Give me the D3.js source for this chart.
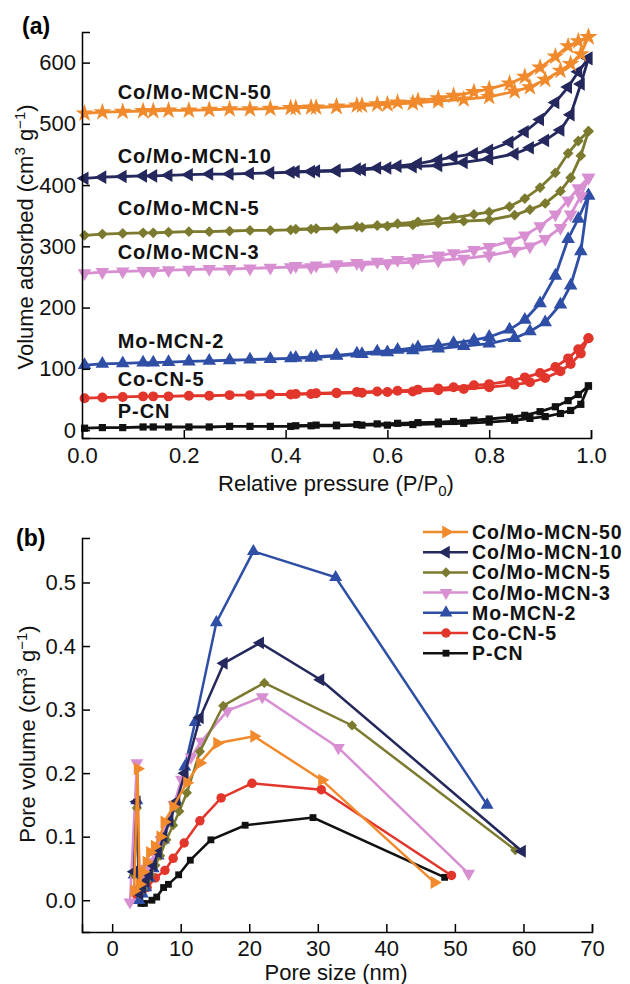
<!DOCTYPE html>
<html>
<head>
<meta charset="utf-8">
<script src="https://cdn.jsdelivr.net/npm/d3@7"></script>
<style>
  body { margin: 0; background: #fff; }
  text { font-family: Arial, "Liberation Sans", sans-serif; }
</style>
</head>
<body>
<div id="chart"></div>
<script>

// sample names (legend order) and their colours
var samples = ["Co/Mo-MCN-50", "Co/Mo-MCN-10", "Co/Mo-MCN-5", "Co/Mo-MCN-3", "Mo-MCN-2", "Co-CN-5", "P-CN"];
var colors  = ["#f08a2c", "#24285c", "#7b7a2e", "#d88fd2", "#2f4ea6", "#e2352b", "#111111"];

// ---------- (a) N2 isotherms ----------
var pAds = [0.005, 0.04, 0.08, 0.12, 0.14, 0.17, 0.21, 0.25, 0.29, 0.33, 0.37, 0.41, 0.45, 0.50,
            0.55, 0.60, 0.65, 0.70, 0.75, 0.80, 0.85, 0.88, 0.91, 0.94, 0.96, 0.98, 0.995];
var pDes = [0.995, 0.975, 0.955, 0.93, 0.90, 0.87, 0.84, 0.80, 0.77, 0.73, 0.70, 0.66, 0.62, 0.58,
            0.54, 0.50, 0.46, 0.42];

var ads50 = [517, 519, 520, 521, 521, 522, 522, 523, 524, 524, 525, 526, 527, 528, 530, 532, 534, 537, 540, 544, 553, 560, 572, 587, 598, 614, 642];
var des50 = [642, 635, 627, 610, 592, 577, 566, 557, 552, 546, 542, 538, 535, 532, 530, 528, 527, 526];
var ads10 = [411, 413, 414, 415, 415, 416, 417, 418, 418, 419, 420, 421, 422, 423, 425, 428, 430, 432, 437, 443, 451, 461, 473, 490, 515, 565, 607];
var des10 = [607, 585, 560, 535, 507, 487, 470, 457, 451, 446, 441, 435, 431, 428, 426, 424, 423, 422];
var ads5  = [318, 320, 321, 322, 322, 323, 324, 324, 325, 326, 326, 327, 328, 329, 331, 333, 335, 338, 341, 343, 351, 360, 370, 390, 412, 448, 488];
var des5  = [488, 472, 452, 420, 396, 378, 365, 356, 352, 347, 344, 340, 337, 334, 332, 330, 329, 328];
var ads3  = [256, 258, 259, 260, 260, 261, 262, 263, 263, 264, 265, 266, 266, 268, 270, 272, 274, 277, 280, 285, 293, 300, 312, 330, 352, 382, 412];
var des3  = [412, 395, 375, 352, 333, 318, 308, 299, 294, 289, 285, 281, 278, 275, 273, 271, 269, 268];
var ads2  = [106, 108, 109, 110, 110, 111, 112, 113, 114, 115, 116, 117, 118, 121, 124, 127, 130, 133, 137, 141, 150, 161, 176, 205, 236, 292, 383];
var des2  = [383, 345, 312, 252, 207, 180, 164, 152, 147, 142, 138, 135, 131, 128, 125, 122, 120, 118];
var adsCo = [52, 53, 54, 55, 55, 55, 56, 56, 57, 57, 58, 58, 59, 60, 61, 62, 63, 65, 67, 70, 74, 78, 85, 96, 108, 125, 150];
var desCo = [150, 132, 117, 103, 93, 86, 80, 75, 73, 70, 68, 66, 64, 63, 62, 61, 60, 59];
var adsP  = [3, 4, 4, 5, 5, 5, 5, 5, 6, 6, 6, 6, 7, 7, 8, 8, 9, 10, 11, 13, 16, 19, 22, 27, 32, 42, 72];
var desP  = [72, 58, 48, 38, 30, 24, 21, 18, 16, 14, 13, 12, 11, 10, 9, 8, 8, 7];

var adsAll = [ads50, ads10, ads5, ads3, ads2, adsCo, adsP];
var desAll = [des50, des10, des5, des3, des2, desCo, desP];

// where the sample names sit in (a), in axis units
var labelP   = 0.07;
var labelVol = [540, 436, 351, 279, 134, 72, 20];

var xTicksA = [0, 0.2, 0.4, 0.6, 0.8, 1.0];
var yTicksA = [0, 100, 200, 300, 400, 500, 600];

// ---------- (b) pore size distribution ----------
var size50 = [3.2, 3.7, 4.0, 4.5, 5.0, 5.5, 6.2, 7.0, 7.6, 8.9, 10.9, 12.8, 15.3, 20.7, 30.6, 47.0];
var vol50  = [0.015, 0.207, 0.025, 0.045, 0.06, 0.075, 0.085, 0.1, 0.123, 0.147, 0.185, 0.216, 0.247, 0.258, 0.189, 0.028];
var size10 = [3.2, 3.6, 4.0, 4.4, 4.9, 5.4, 6.0, 6.7, 7.5, 8.4, 9.4, 10.6, 12.8, 16.3, 21.6, 30.4, 59.8];
var vol10  = [0.045, 0.155, 0.01, 0.02, 0.03, 0.04, 0.055, 0.075, 0.1, 0.125, 0.155, 0.2, 0.287, 0.373, 0.405, 0.347, 0.077];
var size5  = [3.2, 3.6, 4.0, 4.5, 5.0, 5.6, 6.3, 7.0, 7.9, 8.9, 9.8, 10.9, 12.8, 16.2, 22.2, 35.0, 58.8];
var vol5   = [0.04, 0.145, 0.01, 0.018, 0.03, 0.04, 0.055, 0.07, 0.095, 0.118, 0.14, 0.169, 0.234, 0.306, 0.342, 0.275, 0.079];
var size3  = [2.6, 3.6, 4.0, 4.5, 5.0, 5.6, 6.3, 7.1, 8.0, 9.0, 10.1, 11.5, 13.0, 16.8, 21.9, 33.0, 52.0];
var vol3   = [-0.003, 0.216, 0.02, 0.035, 0.05, 0.06, 0.075, 0.095, 0.12, 0.15, 0.19, 0.225, 0.25, 0.298, 0.32, 0.24, 0.042];
var size2  = [3.2, 3.6, 3.9, 4.4, 4.9, 5.4, 6.0, 6.7, 7.5, 8.4, 9.4, 10.6, 12.1, 15.2, 20.6, 32.6, 54.7];
var vol2   = [0.04, 0.157, 0.0, 0.01, 0.02, 0.035, 0.05, 0.07, 0.095, 0.125, 0.155, 0.21, 0.28, 0.437, 0.549, 0.508, 0.15];
var sizeCo = [3.6, 4.3, 5.1, 6.3, 7.7, 8.9, 10.5, 12.8, 15.9, 20.4, 30.5, 49.5];
var volCo  = [0.008, 0.012, 0.02, 0.035, 0.047, 0.066, 0.09, 0.125, 0.161, 0.184, 0.174, 0.039];
var sizeP  = [4.2, 4.7, 5.8, 6.5, 7.5, 8.2, 9.7, 11.4, 14.4, 19.4, 29.3, 48.5];
var volP   = [-0.005, -0.005, 0.0, 0.005, 0.02, 0.025, 0.04, 0.063, 0.095, 0.118, 0.13, 0.036];

var sizeAll = [size50, size10, size5, size3, size2, sizeCo, sizeP];
var volAll  = [vol50, vol10, vol5, vol3, vol2, volCo, volP];

var xTicksB = [0, 10, 20, 30, 40, 50, 60, 70];
var yTicksB = [0, 0.1, 0.2, 0.3, 0.4, 0.5];

// marker kinds: (a) uses a star for the first sample, (b) a right triangle
var markA = ["star", "left", "diamond", "down", "up", "circle", "square"];
var markB = ["right", "left", "diamond", "down", "up", "circle", "square"];

var svg = d3.select("#chart")
    .append("svg")
    .attr("width", 630)
    .attr("height", 984);

// draw one marker symbol, k scales its area
function marker(g, kind, cx, cy, color, k) {
  var type = d3.symbolTriangle, size = 80, rot = 0;
  if (kind == "star") { type = d3.symbolStar; size = 100; }
  if (kind == "left") rot = -90;
  if (kind == "right") rot = 90;
  if (kind == "down") rot = 180;
  if (kind == "diamond") { type = d3.symbolSquare; size = 58; rot = 45; }
  if (kind == "circle") { type = d3.symbolCircle; size = 78; }
  if (kind == "square") { type = d3.symbolSquare; size = 52; }
  g.append("path")
      .attr("d", d3.symbol().type(type).size(size * k)())
      .attr("transform", "translate(" + cx + "," + cy + ") rotate(" + rot + ")")
      .attr("fill", color);
}

function styleAxis(g) {
  g.selectAll("path, line").attr("stroke", "#000").attr("stroke-width", 1.5);
  g.selectAll("text")
      .attr("font-size", 22)
      .attr("font-family", "Arial, 'Liberation Sans', sans-serif")
      .attr("fill", "#111");
}

// ================= panel (a) =================
var xa = d3.scaleLinear().domain([0, 1]).range([82, 591]);
var ya = d3.scaleLinear().domain([-13, 650]).range([438, 32]);

var lineA = d3.line()
    .x(function(d) { return xa(d[0]); })
    .y(function(d) { return ya(d[1]); });

for (var i = samples.length - 1; i >= 0; i--) {
  var g = svg.append("g");
  var ads = pAds.map(function(p, j) { return [p, adsAll[i][j]]; });
  var des = pDes.map(function(p, j) { return [p, desAll[i][j]]; });
  [ads, des].forEach(function(branch) {
    g.append("path")
        .datum(branch)
        .attr("fill", "none")
        .attr("stroke", colors[i])
        .attr("stroke-width", 2.8)
        .attr("d", lineA);
    branch.forEach(function(d) { marker(g, markA[i], xa(d[0]), ya(d[1]), colors[i], 1); });
  });
}

// sample names on (a)
svg.selectAll(".lblA")
    .data(samples)
    .enter().append("text")
    .attr("x", xa(labelP))
    .attr("y", function(d, i) { return ya(labelVol[i]); })
    .attr("font-size", 20)
    .attr("letter-spacing", 1)
    .attr("font-weight", "bold")
    .attr("fill", "#111")
    .text(function(d) { return d; });

svg.append("g")
    .attr("transform", "translate(0,438)")
    .call(d3.axisBottom(xa).tickValues(xTicksA).tickFormat(d3.format(".1f")).tickSize(-8).tickPadding(9))
    .call(styleAxis);

svg.append("g")
    .attr("transform", "translate(82,0)")
    .call(d3.axisLeft(ya).tickValues(yTicksA).tickFormat(d3.format("d")).tickSize(-8).tickPadding(6))
    .call(styleAxis);

// axis titles (a)
var tA = svg.append("text")
    .attr("x", 336).attr("y", 491)
    .attr("text-anchor", "middle")
    .attr("font-size", 22).attr("fill", "#111");
tA.append("tspan").text("Relative pressure (P/P");
tA.append("tspan").attr("dy", 5).attr("font-size", 15).text("0");
tA.append("tspan").attr("dy", -5).text(")");

function yTitle(txt, cx, cy) {
  var t = svg.append("text")
      .attr("transform", "translate(" + cx + "," + cy + ") rotate(-90)")
      .attr("text-anchor", "middle")
      .attr("font-size", 22).attr("fill", "#111");
  t.append("tspan").text(txt + " (cm");
  t.append("tspan").attr("dy", -8).attr("font-size", 15).text("3");
  t.append("tspan").attr("dy", 8).text(" g");
  t.append("tspan").attr("dy", -8).attr("font-size", 15).text("\u22121");
  t.append("tspan").attr("dy", 8).text(")");
}
yTitle("Volume adsorbed", 33, 237);

svg.append("text")
    .attr("x", 22).attr("y", 34)
    .attr("font-size", 23).attr("font-weight", "bold")
    .text("(a)");

// ================= panel (b) =================
var xb = d3.scaleLinear().domain([-4.4, 70]).range([82, 592]);
var yb = d3.scaleLinear().domain([-0.05, 0.57]).range([932, 538]);

var lineB = d3.line()
    .x(function(d) { return xb(d[0]); })
    .y(function(d) { return yb(d[1]); });

for (var i = samples.length - 1; i >= 0; i--) {
  var g = svg.append("g");
  var pts = sizeAll[i].map(function(s, j) { return [s, volAll[i][j]]; });
  g.append("path")
      .datum(pts)
      .attr("fill", "none")
      .attr("stroke", colors[i])
      .attr("stroke-width", 2.5)
      .attr("d", lineB);
  pts.forEach(function(d) { marker(g, markB[i], xb(d[0]), yb(d[1]), colors[i], 0.9); });
}

svg.append("g")
    .attr("transform", "translate(0,932)")
    .call(d3.axisBottom(xb).tickValues(xTicksB).tickFormat(d3.format("d")).tickSize(-8).tickPadding(8))
    .call(styleAxis);

svg.append("g")
    .attr("transform", "translate(82,0)")
    .call(d3.axisLeft(yb).tickValues(yTicksB).tickFormat(d3.format(".1f")).tickSize(-8).tickPadding(6))
    .call(styleAxis);

svg.append("text")
    .attr("x", 336).attr("y", 980)
    .attr("text-anchor", "middle")
    .attr("font-size", 22).attr("fill", "#111")
    .text("Pore size (nm)");

yTitle("Pore volume", 35, 734);

svg.append("text")
    .attr("x", 16).attr("y", 546)
    .attr("font-size", 23).attr("font-weight", "bold")
    .text("(b)");

// legend (b)
var leg = svg.selectAll(".leg")
    .data(samples)
    .enter().append("g")
    .attr("transform", function(d, i) { return "translate(423," + (532 + i * 20.2) + ")"; });

leg.append("line")
    .attr("x1", 0).attr("x2", 45)
    .attr("stroke", function(d, i) { return colors[i]; })
    .attr("stroke-width", 2.5);

leg.each(function(d, i) { marker(d3.select(this), markB[i], 23, 0, colors[i], 0.9); });

leg.append("text")
    .attr("x", 49).attr("y", 7)
    .attr("font-size", 19.5)
    .attr("letter-spacing", 1)
    .attr("font-weight", "bold")
    .attr("fill", "#111")
    .text(function(d) { return d; });

</script>
</body>
</html>
